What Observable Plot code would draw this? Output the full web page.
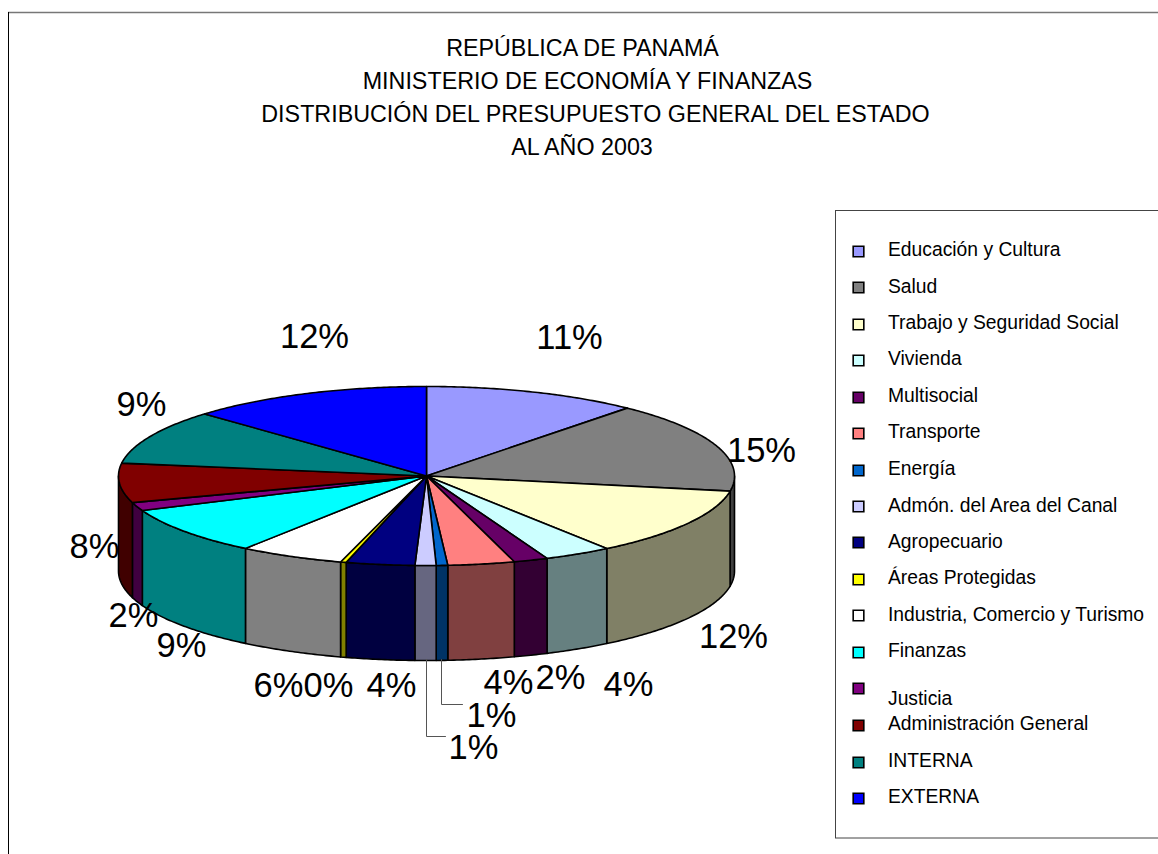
<!DOCTYPE html>
<html><head><meta charset="utf-8">
<script src="https://cdn.jsdelivr.net/npm/d3@7"></script>
<script src="https://cdn.jsdelivr.net/npm/@observablehq/plot@0.6"></script>
<style>html,body{margin:0;padding:0;background:#fff;overflow:hidden}svg{display:block}</style>
</head><body><div id="chart"></div>
<script>
const titleLines = ["REPÚBLICA DE PANAMÁ","MINISTERIO DE ECONOMÍA Y FINANZAS","DISTRIBUCIÓN DEL PRESUPUESTO GENERAL DEL ESTADO","AL AÑO 2003"];
const categories = ["Educación y Cultura","Salud","Trabajo y Seguridad Social","Vivienda","Multisocial","Transporte","Energía","Admón. del Area del Canal","Agropecuario","Áreas Protegidas","Industria, Comercio y Turismo","Finanzas","Justicia","Administración General","INTERNA","EXTERNA"];
// slice shares as read from the drawn wedge boundaries
const shares = [11.3,16.4,12.35,3.55,1.8,3.5,0.6,1.1,3.6,0.3,5.5,8.7,1.5,7.1,9.9,12.8];
// percentages as printed on the chart
const printed = ["11%","15%","12%","4%","2%","4%","1%","1%","4%","0%","6%","9%","2%","8%","9%","12%"];
const colors = ["#9999FF","#808080","#FFFFCC","#CCFFFF","#660066","#FF8080","#0066CC","#CCCCFF","#000080","#FFFF00","#FFFFFF","#00FFFF","#800080","#800000","#008080","#0000FF"];

// layout tables (page units)
const pie = {cx:426, cy:475.5, rx:308, ry:89.5, depth:95};
const labelX = [569,761,733,628,560,508,491,473,391,328,278,181,133,94,141,314];
const labelY = [337,450,636,684,677,682,715,747,685,685,685,645,615,546,404,336];
const legendTextY = [249,286,322,358,395,431,468,505,541,577,614,650,698,723,760,796];
const legendKeyY  = [251,287,324,360,397,433,470,506,542,579,615,652,688,725,762,798];
const titleX = [582,587,595,581.5];
const titleY = [48,81,114,147];
const leaders = [
  {id:"a",x:[441,441,462],y:[659,704,704]},
  {id:"b",x:[426,426,445],y:[659,736,736]}
];

const rim = t => ({x: pie.cx + pie.rx*Math.sin(t), y: pie.cy - pie.ry*Math.cos(t)});
const total = d3.sum(shares);
const toRad = v => v/total*2*Math.PI;
const steps = (a,b) => { const n = Math.max(2,Math.ceil((b-a)/0.01)); return d3.range(n+1).map(i=>a+(b-a)*i/n); };

const tops = [], sides = [];
let acc = 0;
shares.forEach((v,i)=>{
  const a = toRad(acc), b = toRad(acc+v); acc += v;
  const ring = [{x:pie.cx,y:pie.cy},...steps(a,b).map(rim),{x:pie.cx,y:pie.cy}];
  ring.forEach(p=>tops.push({...p,id:i,fill:colors[i]}));
  const s = Math.max(a,Math.PI/2), e = Math.min(b,3*Math.PI/2);
  if (e>s){
    const c = d3.rgb(colors[i]);
    const dark = d3.rgb(c.r*.5,c.g*.5,c.b*.5).formatHex();
    const arc = steps(s,e).map(rim);
    const poly = [...arc,...arc.slice().reverse().map(p=>({x:p.x,y:p.y+pie.depth})),arc[0]];
    poly.forEach(p=>sides.push({...p,id:i,fill:dark}));
  }
});
const legendRows = categories.map((c,i)=>({c,i,color:colors[i],ty:legendTextY[i],ky:legendKeyY[i]}));
const pct = printed.map((t,i)=>({t,x:labelX[i],y:labelY[i]}));
const leaderPts = leaders.flatMap(l=>l.x.map((x,i)=>({id:l.id,x,y:l.y[i]})));
const titleRows = titleLines.map((t,i)=>({t,x:titleX[i],y:titleY[i]}));
const font = "'Liberation Sans', Arial, sans-serif";

const chart = Plot.plot({
  width:1158, height:854, margin:0,
  style:{fontFamily:font,background:"#fff"},
  x:{domain:[0,1158],range:[0,1158],axis:null},
  y:{domain:[0,854],range:[0,854],axis:null},
  color:{type:"identity"},
  marks:[
    // chart frame
    Plot.ruleY([12],{x1:8,x2:1158,stroke:"#777",strokeWidth:1.5}),
    Plot.ruleX([8],{y1:12,y2:854,stroke:"#000",strokeWidth:1}),
    // title
    Plot.text(titleRows,{x:"x",y:"y",text:"t",fontSize:23.3,fill:"#000",textAnchor:"middle"}),
    // pie wall and top
    Plot.line(sides,{x:"x",y:"y",z:"id",fill:"fill",stroke:"#000",strokeWidth:1.6,strokeLinejoin:"round"}),
    Plot.line(tops,{x:"x",y:"y",z:"id",fill:"fill",stroke:"#000",strokeWidth:1.6,strokeLinejoin:"round"}),
    // leaders
    Plot.line(leaderPts,{x:"x",y:"y",z:"id",stroke:"#555",strokeWidth:1}),
    // percent labels
    Plot.text(pct,{x:"x",y:"y",text:"t",fontSize:34.5,fill:"#000",textAnchor:"middle"}),
    // legend
    Plot.rect([0],{x1:835.5,x2:1170,y1:210.5,y2:838,fill:"#fff",stroke:"#444",strokeWidth:1}),
    Plot.dot(legendRows,{x:()=>858,y:"ky",r:6,symbol:"square",fill:"color",stroke:"#000",strokeWidth:1.6}),
    Plot.text(legendRows,{x:()=>887.5,y:"ty",text:"c",fontSize:19.3,fill:"#000",textAnchor:"start"})
  ]
});
document.getElementById("chart").append(chart);
</script></body></html>
